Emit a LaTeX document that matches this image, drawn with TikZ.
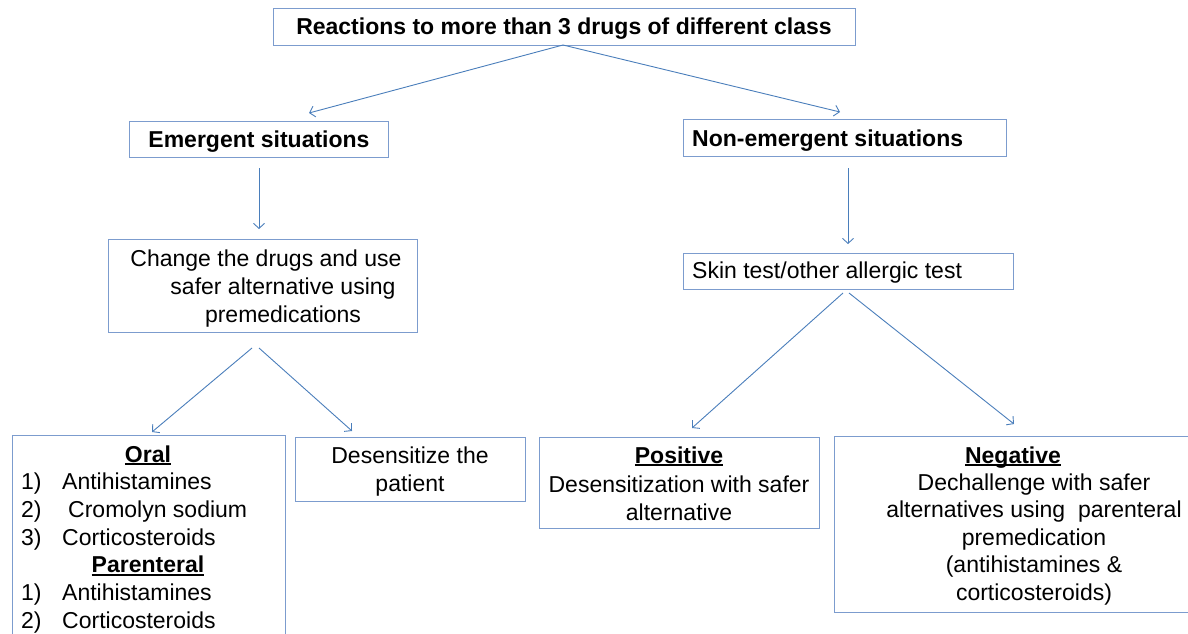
\documentclass[tikz,border=0pt]{standalone}
\usepackage{fontspec}
\setmainfont{Liberation Sans}
\usetikzlibrary{arrows.meta}
\definecolor{boxc}{RGB}{124,156,206}
\definecolor{arrc}{RGB}{74,126,187}
\newcommand\myul[1]{\leavevmode\setbox0\hbox{#1}\rlap{\rule[-3pt]{\wd0}{1.6pt}}\box0}
\tikzset{
  box/.style={draw=boxc, line width=1.3pt, inner sep=0pt, anchor=north west, rectangle},
  txt/.style={inner sep=0pt, anchor=base, font=\fontsize{23}{28}\selectfont},
  txtl/.style={txt, anchor=base west},
  arr/.style={draw=arrc, line width=0.9pt, -{Straight Barb[length=5pt,width=11pt]}}
}
\begin{document}
\begin{tikzpicture}[x=1pt,y=-1pt]
\useasboundingbox (0,0) rectangle (1188,634);
\clip (0,0) rectangle (1188,634);
% boxes
\node[box, minimum width=582pt, minimum height=37pt] (top) at (273,8) {};
\node[box, minimum width=259pt, minimum height=36pt] (emerg) at (129,121) {};
\node[box, minimum width=323pt, minimum height=37pt] (nonem) at (683,119) {};
\node[box, minimum width=309pt, minimum height=93pt] (change) at (108,239) {};
\node[box, minimum width=330pt, minimum height=36pt] (skin) at (683,253) {};
\node[box, minimum width=273pt, minimum height=230pt] (oral) at (12,435) {};
\node[box, minimum width=230pt, minimum height=64pt] (desens) at (295,437) {};
\node[box, minimum width=280pt, minimum height=91pt] (pos) at (539,437) {};
\node[box, minimum width=400pt, minimum height=176pt] (neg) at (834,436) {};
% texts
\node[txt, font=\fontsize{23}{28}\selectfont\bfseries] (ttop) at (564,35) {Reactions to more than 3 drugs of different class};
\node[txt, font=\fontsize{23}{28}\selectfont\bfseries] (temerg) at (259,147) {Emergent situations};
\node[txtl, font=\fontsize{23}{28}\selectfont\bfseries] (tnonem) at (692,146) {Non-emergent situations};
\node[txtl] (tskin) at (692,278) {Skin test/other allergic test};
\node[txt] (tch1) at (266,266) {Change the drugs and use};
\node[txt] (tch2) at (283,294) {safer alternative using};
\node[txt] (tch3) at (283,322) {premedications};
% oral
\node[txt, font=\fontsize{23}{28}\selectfont\bfseries] (toral) at (148,462) {\myul{Oral}};
\node[txtl] (on1) at (21,489.7) {1)};
\node[txtl] (oi1) at (62,489.7) {Antihistamines};
\node[txtl] (on2) at (21,517.4) {2)};
\node[txtl] (oi2) at (68,517.4) {Cromolyn sodium};
\node[txtl] (on3) at (21,545) {3)};
\node[txtl] (oi3) at (62,545) {Corticosteroids};
\node[txt, font=\fontsize{23}{28}\selectfont\bfseries] (tpar) at (148,572.8) {\myul{Parenteral}};
\node[txtl] (pn1) at (21,600.5) {1)};
\node[txtl] (pi1) at (62,600.5) {Antihistamines};
\node[txtl] (pn2) at (21,628.2) {2)};
\node[txtl] (pi2) at (62,628.2) {Corticosteroids};
% desensitize
\node[txt] (td1) at (410,463) {Desensitize the};
\node[txt] (td2) at (410,491) {patient};
% positive
\node[txt, font=\fontsize{23}{28}\selectfont\bfseries] (tpos) at (679,463) {\myul{Positive}};
\node[txt] (tp1) at (679,492) {Desensitization with safer};
\node[txt] (tp2) at (679,520) {alternative};
% negative
\node[txt, font=\fontsize{23}{28}\selectfont\bfseries] (tneg) at (1013,463) {\myul{Negative}};
\node[txt] (tn1) at (1034,490) {Dechallenge with safer};
\node[txt] (tn2) at (1034,517.5) {alternatives using\ \ parenteral};
\node[txt] (tn3) at (1034,545) {premedication};
\node[txt] (tn4) at (1034,572.5) {(antihistamines \&};
\node[txt] (tn5) at (1034,600) {corticosteroids)};
% connector points
\coordinate (topout) at (563,45);
\coordinate (emergin) at (309,113);
\coordinate (nonemin) at (840,112);
\coordinate (emergout) at (259,168);
\coordinate (changein) at (259,229);
\coordinate (nonemout) at (848,168);
\coordinate (skinin) at (848,244);
\coordinate (changeoutl) at (252,348);
\coordinate (changeoutr) at (259,348);
\coordinate (oralin) at (152,432);
\coordinate (desensin) at (352,431);
\coordinate (skinoutl) at (843,293);
\coordinate (skinoutr) at (849,293);
\coordinate (posin) at (692,428);
\coordinate (negin) at (1014,424);
% connectors
\draw[arr] (topout) -- (emergin);
\draw[arr] (topout) -- (nonemin);
\draw[arr] (emergout) -- (changein);
\draw[arr] (nonemout) -- (skinin);
\draw[arr] (changeoutl) -- (oralin);
\draw[arr] (changeoutr) -- (desensin);
\draw[arr] (skinoutl) -- (posin);
\draw[arr] (skinoutr) -- (negin);
\end{tikzpicture}
\end{document}
